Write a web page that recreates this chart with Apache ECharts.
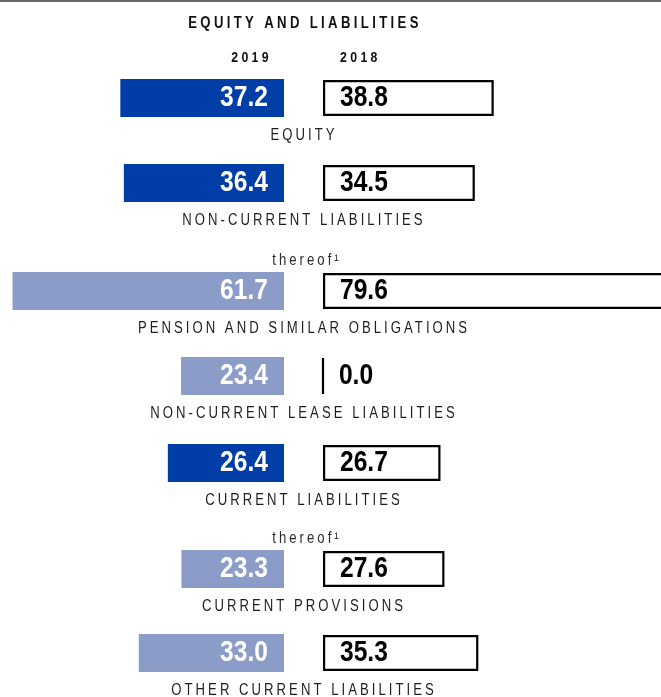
<!DOCTYPE html>
<html>
<head>
<meta charset="utf-8">
<script src="https://cdn.jsdelivr.net/npm/echarts@6/dist/echarts.min.js"></script>
<style>
  html, body { margin: 0; padding: 0; background: #fff; }
  #balance { width: 661px; height: 697px; }
</style>
</head>
<body>
<div id="balance"></div>
<script>
// data
const chartTitle = 'EQUITY AND LIABILITIES';
const years = ['2019', '2018'];
const categories = [
  'EQUITY',
  'NON-CURRENT LIABILITIES',
  'PENSION AND SIMILAR OBLIGATIONS',
  'NON-CURRENT LEASE LIABILITIES',
  'CURRENT LIABILITIES',
  'CURRENT PROVISIONS',
  'OTHER CURRENT LIABILITIES'
];
const values2019 = [37.2, 36.4, 61.7, 23.4, 26.4, 23.3, 33.0];
const values2018 = [38.8, 34.5, 79.6, 0.0, 26.7, 27.6, 35.3];
const isSubItem = [false, false, true, true, false, true, true];
const hasThereof = [false, false, true, false, false, true, false];
const thereofText = 'thereof\u00b9';

// layout
const rowTop = [79, 164, 272, 357, 444, 550, 634];
const barH = 38;
const leftZero = 284, rightZero = 323;
const pxPerUnit = 4.4;
const midX = 304;
const FONT = "'Liberation Sans', Arial, sans-serif";

// no narrow face installed: squeeze Liberation Sans to 82% (= Arial Narrow widths)
// and add the wide tracking of the small caps labels
const NARROW = 0.82;
['fillText', 'strokeText'].forEach(function (fn) {
  const orig = CanvasRenderingContext2D.prototype[fn];
  CanvasRenderingContext2D.prototype[fn] = function (text, x, y) {
    const m = /(\d+(?:\.\d+)?)px/.exec(this.font);
    const size = m ? +m[1] : 12;
    this.save();
    if ('letterSpacing' in this) {
      this.letterSpacing = size >= 20 ? '0px' : (/bold|700/.test(this.font) ? '4.1px' : '3.7px');
    }
    this.translate(x, y);
    this.scale(NARROW, 1);
    orig.call(this, text, 0, 0);
    this.restore();
  };
});

var chartDom = document.getElementById('balance');
var myChart = echarts.init(chartDom, null, {renderer: 'canvas'});

let grid = [], xAxis = [], yAxis = [], series = [], graphic = [];

const valueLabel = {
  show: true,
  fontFamily: FONT,
  fontWeight: 'bold',
  fontSize: 30,
  textBorderWidth: 0,
  formatter: function (p) { return p.value.toFixed(1); }
};

categories.forEach(function (name, i) {
  // 2019 side, grows to the left
  grid.push({
    left: leftZero - 64.5 * pxPerUnit, width: 64.5 * pxPerUnit,
    top: rowTop[i], height: barH, outerBoundsMode: 'none'
  });
  xAxis.push({type: 'value', gridIndex: grid.length - 1, min: 0, max: 64.5, inverse: true, show: false});
  yAxis.push({type: 'category', gridIndex: grid.length - 1, data: [name], show: false});
  series.push({
    type: 'bar',
    xAxisIndex: grid.length - 1,
    yAxisIndex: grid.length - 1,
    barWidth: '100%',
    data: [values2019[i]],
    itemStyle: {color: isSubItem[i] ? '#8b9cc8' : '#003da6'},
    label: Object.assign({}, valueLabel, {position: 'insideRight', distance: 16, color: '#ffffff'}),
    emphasis: {disabled: true}
  });

  // 2018 side, outlined box to the right
  grid.push({
    left: rightZero, width: 80 * pxPerUnit,
    top: rowTop[i] + 1, height: barH - 2, outerBoundsMode: 'none'
  });
  xAxis.push({type: 'value', gridIndex: grid.length - 1, min: 0, max: 80, show: false});
  yAxis.push({type: 'category', gridIndex: grid.length - 1, data: [name], show: false});
  series.push({
    type: 'bar',
    xAxisIndex: grid.length - 1,
    yAxisIndex: grid.length - 1,
    barWidth: '100%',
    data: [values2018[i]],
    itemStyle: {color: '#ffffff', borderColor: '#000000', borderWidth: 2.2},
    label: Object.assign({}, valueLabel, {position: 'insideLeft', distance: 17, color: '#000000'}),
    emphasis: {disabled: true}
  });

  // category name under the bars
  graphic.push({
    type: 'text', x: midX, y: rowTop[i] + barH / 2 + 38,
    style: {text: name, fill: '#1e1e1e', font: '16px ' + FONT, textAlign: 'center', textVerticalAlign: 'middle'}
  });
  if (hasThereof[i]) {
    graphic.push({
      type: 'text', x: midX + 3, y: rowTop[i] + barH / 2 - 30,
      style: {text: thereofText, fill: '#2a2a2a', font: '16px ' + FONT, textAlign: 'center', textVerticalAlign: 'middle'}
    });
  }
});

// header
graphic.push({type: 'line', shape: {x1: 0, y1: 1, x2: 661, y2: 1}, style: {stroke: '#6a6a6a', lineWidth: 2}});
graphic.push({
  type: 'text', x: midX + 1, y: 24,
  style: {text: chartTitle, fill: '#111', font: 'bold 16px ' + FONT, textAlign: 'center', textVerticalAlign: 'middle'}
});
graphic.push({
  type: 'text', x: 272, y: 57.5,
  style: {text: years[0], fill: '#111', font: 'bold 15px ' + FONT, textAlign: 'right', textVerticalAlign: 'middle'}
});
graphic.push({
  type: 'text', x: 340, y: 57.5,
  style: {text: years[1], fill: '#111', font: 'bold 15px ' + FONT, textAlign: 'left', textVerticalAlign: 'middle'}
});

let option = {
  animation: false,
  backgroundColor: '#ffffff',
  grid: grid,
  xAxis: xAxis,
  yAxis: yAxis,
  series: series,
  graphic: graphic
};
myChart.setOption(option);
</script>
</body>
</html>
